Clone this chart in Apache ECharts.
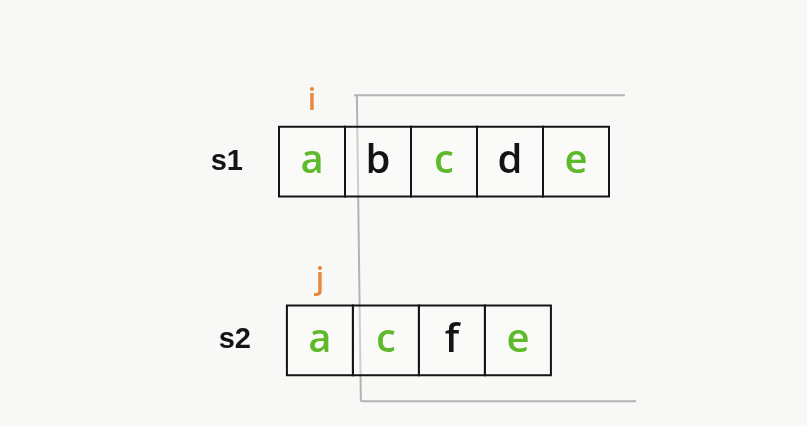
<!DOCTYPE html>
<html>
<head>
<meta charset="utf-8">
<title>s1 / s2</title>
<script src="https://cdn.jsdelivr.net/npm/echarts@6/dist/echarts.min.js"></script>
<style>
  html, body { margin: 0; padding: 0; background: #f8f8f6; }
  #chart { width: 807px; height: 426px; }
</style>
</head>
<body>
<div id="chart"></div>
<script>
// strings being compared
const rowNames = ['s1', 's2']
const s1Chars = ['a', 'b', 'c', 'd', 'e']
const s2Chars = ['a', 'c', 'f', 'e']
// true = char appears in the common subsequence (drawn green)
const s1Match = [true, false, true, false, true]
const s2Match = [true, true, false, true]
// pointers: name, row, column
const pointerNames = ['i', 'j']
const pointerRows = [0, 1]
const pointerCols = [0, 0]
// gray bracket segments [x1, y1, x2, y2] in cell / row units
const bracketSegments = [
  [1.14, -0.37, 5.24, -0.37],
  [1.18, -0.37, 1.24, 1.34],
  [1.24, 1.34, 5.41, 1.34],
]

const rowChars = [s1Chars, s2Chars]
const rowMatch = [s1Match, s2Match]
const rowShift = [0, 0.12]   // s2 row sits a little to the right
const boxRows = 0.39         // box height in row units

const GREEN = '#5fba2b'
const ORANGE = '#e8883f'
const INK = '#141414'

const cells = []
rowChars.forEach((chars, r) => {
  chars.forEach((ch, c) => {
    cells.push({ value: [c + rowShift[r], r], ch, match: rowMatch[r][c] })
  })
})

const chart = echarts.init(document.getElementById('chart'))

chart.setOption({
  backgroundColor: '#f8f8f6',
  animation: false,
  grid: { left: 279, top: 90, width: 330, height: 322 },
  xAxis: { type: 'value', min: 0, max: 5, show: false },
  yAxis: { type: 'value', min: -0.4, max: 1.4, inverse: true, show: false },
  series: [
    {
      // character boxes
      type: 'custom',
      clip: false,
      data: cells.map((d) => d.value),
      renderItem(params, api) {
        const cell = cells[params.dataIndex]
        const p = api.coord([api.value(0), api.value(1)])
        const w = api.size([1, 0])[0]
        const h = api.size([0, boxRows])[1]
        return {
          type: 'group',
          children: [
            {
              type: 'rect',
              shape: { x: p[0], y: p[1] - h / 2, width: w, height: h },
              style: { fill: 'rgba(255,255,255,0.35)', stroke: INK, lineWidth: 2 },
            },
            {
              type: 'text',
              x: p[0] + w / 2,
              y: p[1],
              style: {
                text: cell.ch,
                fill: cell.match ? GREEN : INK,
                font: '600 40px "Open Sans", "Noto Sans", sans-serif',
                align: 'center',
                verticalAlign: 'middle',
              },
            },
          ],
        }
      },
    },
    {
      // row names s1 / s2
      type: 'custom',
      clip: false,
      data: rowNames.map((n, r) => [rowShift[r], r]),
      renderItem(params, api) {
        const p = api.coord([api.value(0), api.value(1)])
        return {
          type: 'text',
          x: p[0] - 36,
          y: p[1],
          style: {
            text: rowNames[params.dataIndex],
            fill: INK,
            font: 'bold 29px "Liberation Sans", Arial, sans-serif',
            align: 'right',
            verticalAlign: 'middle',
          },
        }
      },
    },
    {
      // pointers i / j
      type: 'custom',
      clip: false,
      data: pointerNames.map((n, k) => [pointerCols[k] + rowShift[pointerRows[k]] + 0.5, pointerRows[k]]),
      renderItem(params, api) {
        const p = api.coord([api.value(0), api.value(1)])
        return {
          type: 'text',
          x: p[0],
          y: p[1] - 60,
          style: {
            text: pointerNames[params.dataIndex],
            fill: ORANGE,
            font: '600 30px "Open Sans", "Noto Sans", sans-serif',
            align: 'center',
            verticalAlign: 'middle',
          },
        }
      },
    },
    {
      // gray bracket
      type: 'custom',
      clip: false,
      z: 1,
      data: bracketSegments,
      renderItem(params, api) {
        const a = api.coord([api.value(0), api.value(1)])
        const b = api.coord([api.value(2), api.value(3)])
        return {
          type: 'line',
          shape: { x1: a[0], y1: a[1], x2: b[0], y2: b[1] },
          style: { stroke: '#b3b3b3', lineWidth: 2 },
        }
      },
    },
  ],
})
</script>
</body>
</html>
